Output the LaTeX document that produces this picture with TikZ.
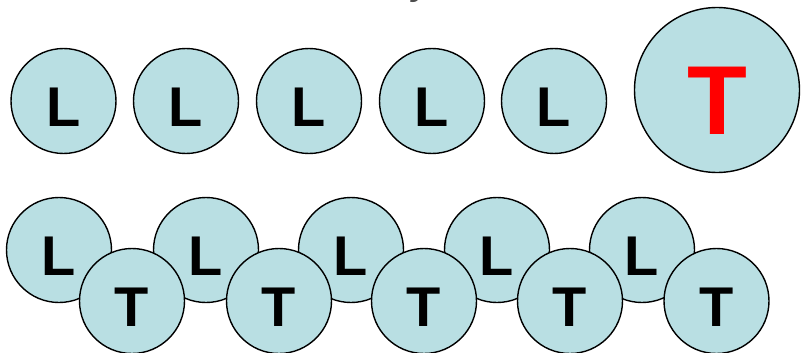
\documentclass[tikz,border=0pt]{standalone}
\usepackage{fontspec}
\setmainfont{Liberation Sans}
\definecolor{cfill}{RGB}{185,223,227}
\definecolor{tgray}{RGB}{77,77,77}
\begin{document}
\begin{tikzpicture}[x=1pt,y=-1pt,
  ball/.style={circle,draw=black,line width=1.4pt,fill=cfill,minimum size=105pt,inner sep=0pt},
  bigball/.style={ball,minimum size=165pt},
  letter/.style={inner sep=0pt,font=\fontsize{56}{56}\selectfont\bfseries,text=black},
  bigletter/.style={inner sep=0pt,font=\fontsize{98}{98}\selectfont\bfseries,text=red}]
\useasboundingbox (0,0) rectangle (801,353);
% partially visible title (cut off by the top edge, as in the reference)
\node[anchor=base,inner sep=0pt,font=\fontsize{34}{34}\selectfont\bfseries\itshape,text=tgray] (title) at (421,-4.5) {y};
% top row
\foreach \i/\x in {1/63.5,2/186,3/309,4/432,5/554}{
  \node[ball] (a\i) at (\x,101) {};
  \node[letter] (al\i) at ([yshift=-6pt]a\i.center) {L};
}
\node[bigball] (big) at (717,90) {};
\node[bigletter] (bigl) at ([yshift=-11pt]big.center) {T};
% bottom row: L balls first, then T balls on top
\foreach \i/\x in {1/59,2/206,3/351,4/497,5/642}{
  \node[ball] (b\i) at (\x,250) {};
  \node[letter] (bl\i) at ([yshift=-6pt]b\i.center) {L};
}
\foreach \i/\x in {1/132,2/279,3/424,4/570,5/716.5}{
  \node[ball] (c\i) at (\x,301) {};
  \node[letter] (cl\i) at ([yshift=-6pt]c\i.center) {T};
}
\end{tikzpicture}
\end{document}
